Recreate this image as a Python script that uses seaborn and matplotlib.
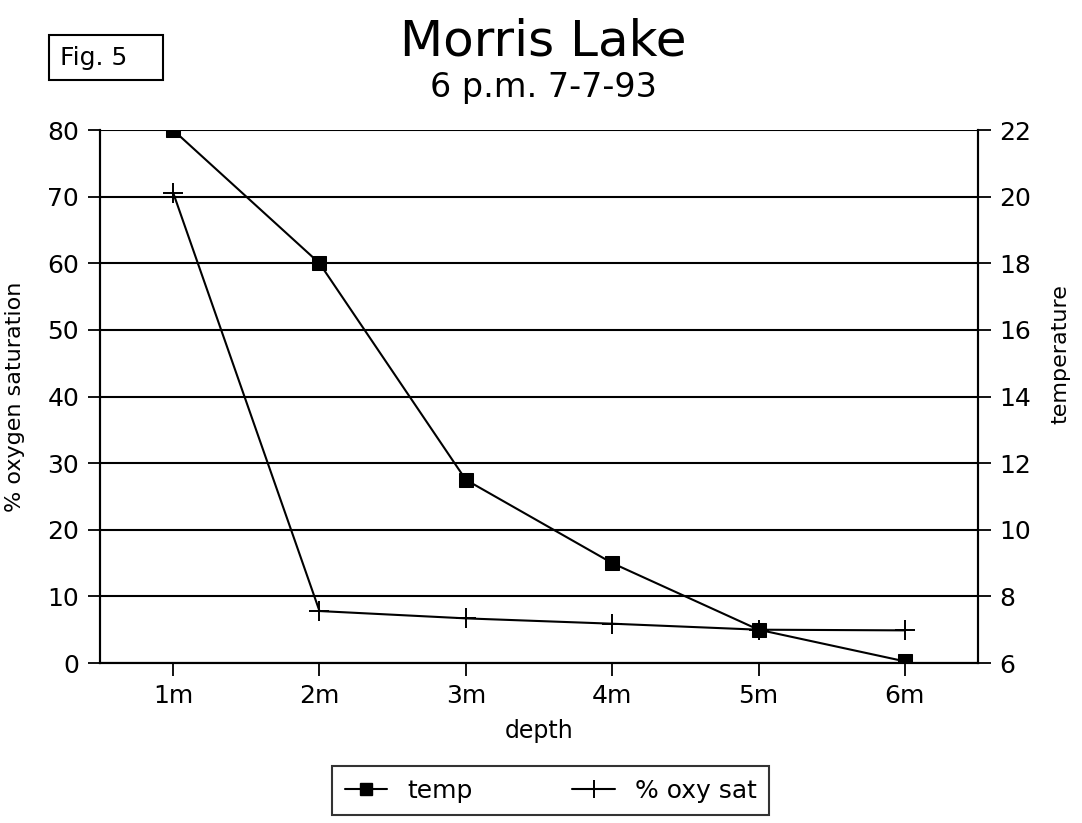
import matplotlib
matplotlib.use("Agg")
import matplotlib.pyplot as plt
import seaborn as sns
import pandas as pd
from matplotlib.patches import Rectangle
from matplotlib.lines import Line2D

# data
depth = ['1m', '2m', '3m', '4m', '5m', '6m']
temp = [22.0, 18.0, 11.5, 9.0, 7.0, 6.05]        # right axis
oxy_sat = [70.6, 7.8, 6.7, 5.9, 5.0, 4.9]        # left axis

df = pd.DataFrame({'depth': depth, 'temp': temp, 'oxy': oxy_sat})

sns.set_style("ticks")
plt.rcParams['font.family'] = ['DejaVu Sans']
plt.rcParams['text.color'] = 'black'
plt.rcParams['axes.labelcolor'] = 'black'

fig = plt.figure(figsize=(10.82, 8.23), dpi=100)
ax = fig.add_axes([0.0924, 0.1944, 0.8115, 0.6476])
ax2 = ax.twinx()

# % oxy sat on the left axis
sns.lineplot(x='depth', y='oxy', data=df, ax=ax, color='black', linewidth=1.5,
             marker='+', markersize=14, markeredgewidth=1.4,
             markeredgecolor='black', sort=False)
# temp on the right axis
sns.lineplot(x='depth', y='temp', data=df, ax=ax2, color='black', linewidth=1.5,
             marker='s', markersize=10, markeredgecolor='black', sort=False)

ax.set_ylim(0, 80)
ax.set_yticks(range(0, 81, 10))
ax2.set_ylim(6, 22)
ax2.set_yticks(range(6, 23, 2))
ax.set_xlim(-0.5, 5.5)

ax.grid(axis='y', color='black', linewidth=1.5)
ax.set_axisbelow(True)

for a in (ax, ax2):
    a.spines['top'].set_visible(False)
    for s in a.spines.values():
        s.set_color('black')
        s.set_linewidth(1.5)
    a.tick_params(colors='black', labelsize=18, length=9, width=1.3, pad=6)

ax.set_xlabel('depth', fontsize=17, labelpad=8)
ax.set_ylabel('% oxygen saturation', fontsize=16)
ax2.set_ylabel('temperature', fontsize=16, rotation=90)
ax.yaxis.set_label_coords(-0.085, 0.5)
ax2.yaxis.set_label_coords(1.082, 0.58)

# titles
fig.text(0.502, 0.933, 'Morris Lake', ha='center', va='baseline', fontsize=36)
fig.text(0.502, 0.882, '6 p.m. 7-7-93', ha='center', va='baseline', fontsize=24)

# Fig. 5 box
fig.patches.append(Rectangle((49 / 1082, 1 - 80 / 823), 114 / 1082, 45 / 823,
                             transform=fig.transFigure, fill=False,
                             edgecolor='black', linewidth=1.5))
fig.text(60 / 1082, 1 - 58 / 823, 'Fig. 5', ha='left', va='center', fontsize=18)

# legend
handles = [
    Line2D([], [], color='black', linewidth=1.5, marker='s', markersize=9),
    Line2D([], [], color='black', linewidth=1.5, marker='+', markersize=13,
           markeredgewidth=1.4),
]
leg = fig.legend(handles, ['temp', '% oxy sat'], loc='center',
                 bbox_to_anchor=(0.509, 0.039), ncol=2, fontsize=18,
                 frameon=True, fancybox=False, edgecolor='black',
                 handlelength=1.7, columnspacing=4.0, borderpad=0.5)
leg.get_frame().set_linewidth(1.5)

ax.get_legend().remove() if ax.get_legend() else None
ax2.get_legend().remove() if ax2.get_legend() else None

fig.savefig('out.png', dpi=100)
